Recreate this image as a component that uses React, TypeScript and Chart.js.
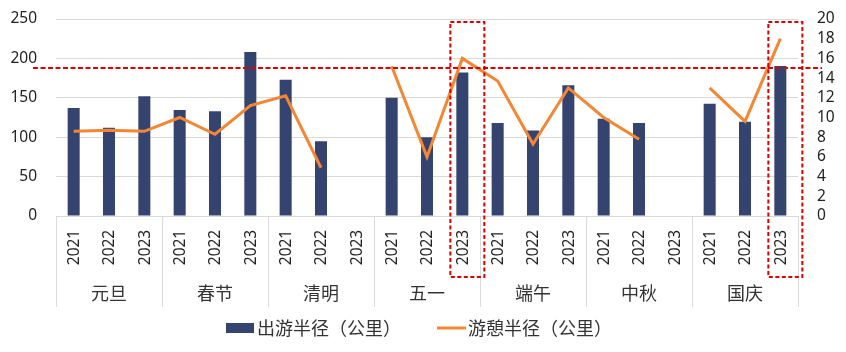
import React, { useEffect, useRef } from 'react';
import { Chart, registerables } from 'chart.js';

Chart.register(...registerables);

const groups = ['元旦', '春节', '清明', '五一', '端午', '中秋', '国庆'];
const years = ['2021', '2022', '2023'];

// 出游半径（公里） – left axis
const travelRadius = [
  137, 112, 152,
  134.5, 133, 208,
  173, 95, null,
  150, 100, 182,
  118, 108.5, 166,
  123.5, 118, null,
  142.5, 119.5, 190.5,
];

// 游憩半径（公里） – right axis
const restRadius = [
  8.6, 8.7, 8.6,
  10.0, 8.3, 11.2,
  12.2, 4.9, null,
  15.2, 6.0, 16.0,
  13.7, 7.3, 13.0,
  10.0, 7.8, null,
  13.0, 9.6, 18.0,
];

const leftMax = 250;
const leftStep = 50;
const rightMax = 20;
const rightStep = 2;
const restThreshold = 15;
const highlighted = [['五一', '2023'], ['国庆', '2023']];

const barLabel = '出游半径（公里）';
const lineLabel = '游憩半径（公里）';
const barColor = '#34446F';
const lineColor = '#F58634';
const red = '#E00000';
const gridColor = '#D9D9D9';
const numFont = "'Noto Sans', 'DejaVu Sans', sans-serif";
const cjkFont = "'Noto Sans CJK SC', 'Noto Sans', sans-serif";

const overlayPlugin = {
  id: 'overlay',
  afterDraw(chart: any) {
    const { ctx, chartArea, scales } = chart;
    const xs = scales.x;
    const yR = scales.y1;
    const half = (xs.getPixelForValue(1) - xs.getPixelForValue(0)) / 2;
    const bottom = chartArea.bottom;
    ctx.save();

    // group separators
    ctx.strokeStyle = gridColor;
    ctx.lineWidth = 1;
    for (let g = 0; g <= groups.length; g++) {
      const bx = Math.round(xs.getPixelForValue(g * years.length) - half) + 0.5;
      ctx.beginPath();
      ctx.moveTo(bx, bottom);
      ctx.lineTo(bx, bottom + 91);
      ctx.stroke();
    }

    // year labels (rotated)
    ctx.fillStyle = '#222';
    ctx.font = `15.5px ${numFont}`;
    ctx.textAlign = 'center';
    ctx.textBaseline = 'middle';
    groups.forEach((g, gi) => {
      years.forEach((y, yi) => {
        const cx = xs.getPixelForValue(gi * years.length + yi);
        ctx.save();
        ctx.translate(cx + 1, bottom + 31.5);
        ctx.rotate(-Math.PI / 2);
        ctx.fillText(y, 0, 0);
        ctx.restore();
      });
    });

    // group labels
    ctx.fillStyle = '#333';
    ctx.font = `18px ${cjkFont}`;
    groups.forEach((g, gi) => {
      const c0 = xs.getPixelForValue(gi * years.length);
      const c2 = xs.getPixelForValue(gi * years.length + years.length - 1);
      ctx.fillText(g, (c0 + c2) / 2, bottom + 77);
    });

    // threshold dashed line
    ctx.strokeStyle = red;
    ctx.lineWidth = 2;
    ctx.setLineDash([5, 2.5]);
    const ty = Math.round(yR.getPixelForValue(restThreshold));
    ctx.beginPath();
    ctx.moveTo(chartArea.left - 23, ty);
    ctx.lineTo(chartArea.right + 24, ty);
    ctx.stroke();

    // highlight rectangles
    ctx.setLineDash([4, 2.5]);
    highlighted.forEach(([g, y]) => {
      const idx = groups.indexOf(g) * years.length + years.indexOf(y);
      const cx = xs.getPixelForValue(idx);
      const top = chartArea.top + 3;
      ctx.strokeRect(cx - 12, top, 34, bottom + 61 - top);
    });
    ctx.setLineDash([]);

    // legend
    ctx.font = `18px ${cjkFont}`;
    ctx.textAlign = 'left';
    const w1 = ctx.measureText(barLabel).width;
    const w2 = ctx.measureText(lineLabel).width;
    const total = 28 + 3 + w1 + 36 + 29 + 2 + w2;
    let lx = chart.width / 2 - total / 2 - 4;
    const ly = bottom + 112;
    ctx.fillStyle = barColor;
    ctx.fillRect(lx, ly - 5, 28, 10);
    lx += 31;
    ctx.fillStyle = '#333';
    ctx.fillText(barLabel, lx, ly);
    lx += w1 + 36;
    ctx.strokeStyle = lineColor;
    ctx.lineWidth = 3;
    ctx.beginPath();
    ctx.moveTo(lx, ly);
    ctx.lineTo(lx + 29, ly);
    ctx.stroke();
    lx += 31;
    ctx.fillText(lineLabel, lx, ly);

    ctx.restore();
  },
};

export default function App() {
  const ref = useRef<HTMLCanvasElement>(null);

  useEffect(() => {
    document.body.style.margin = '0';
    if (!ref.current) return;
    const labels = groups.flatMap((g) => years.map((y) => `${g} ${y}`));
    const chart = new Chart(ref.current, {
      type: 'bar',
      data: {
        labels,
        datasets: [
          {
            type: 'line',
            label: lineLabel,
            data: restRadius,
            yAxisID: 'y1',
            borderColor: lineColor,
            backgroundColor: lineColor,
            borderWidth: 3,
            pointRadius: 0,
            spanGaps: false,
            tension: 0,
            order: 0,
          } as any,
          {
            type: 'bar',
            label: barLabel,
            data: travelRadius,
            yAxisID: 'y',
            backgroundColor: barColor,
            barPercentage: 0.34,
            categoryPercentage: 1,
            order: 1,
          } as any,
        ],
      },
      options: {
        responsive: false,
        animation: false,
        devicePixelRatio: 1,
        layout: { padding: { top: 19, bottom: 136, left: 0, right: 0 } },
        plugins: { legend: { display: false }, tooltip: { enabled: false } },
        scales: {
          x: {
            display: false,
          },
          y: {
            position: 'left',
            min: 0,
            max: leftMax,
            ticks: { stepSize: leftStep, padding: 0, autoSkip: false, color: '#222', font: { family: numFont, size: 15.5 } },
            grid: { color: gridColor, drawTicks: true, tickLength: 19, tickColor: 'rgba(0,0,0,0)' },
            border: { display: false },
            afterFit: (s: any) => { s.width = 56; },
          },
          y1: {
            position: 'right',
            min: 0,
            max: rightMax,
            ticks: { stepSize: rightStep, padding: 0, autoSkip: false, color: '#222', font: { family: numFont, size: 15.5 } },
            grid: { display: true, drawOnChartArea: false, drawTicks: true, tickLength: 19, tickColor: 'rgba(0,0,0,0)' },
            border: { display: false },
            afterFit: (s: any) => { s.width = 48; },
          },
        },
      } as any,
      plugins: [overlayPlugin],
    });
    return () => chart.destroy();
  }, []);

  return (
    <div style={{ position: 'absolute', left: 0, top: 0, width: 846, height: 352 }}>
      <canvas ref={ref} width={846} height={352} style={{ display: 'block' }} />
    </div>
  );
}
